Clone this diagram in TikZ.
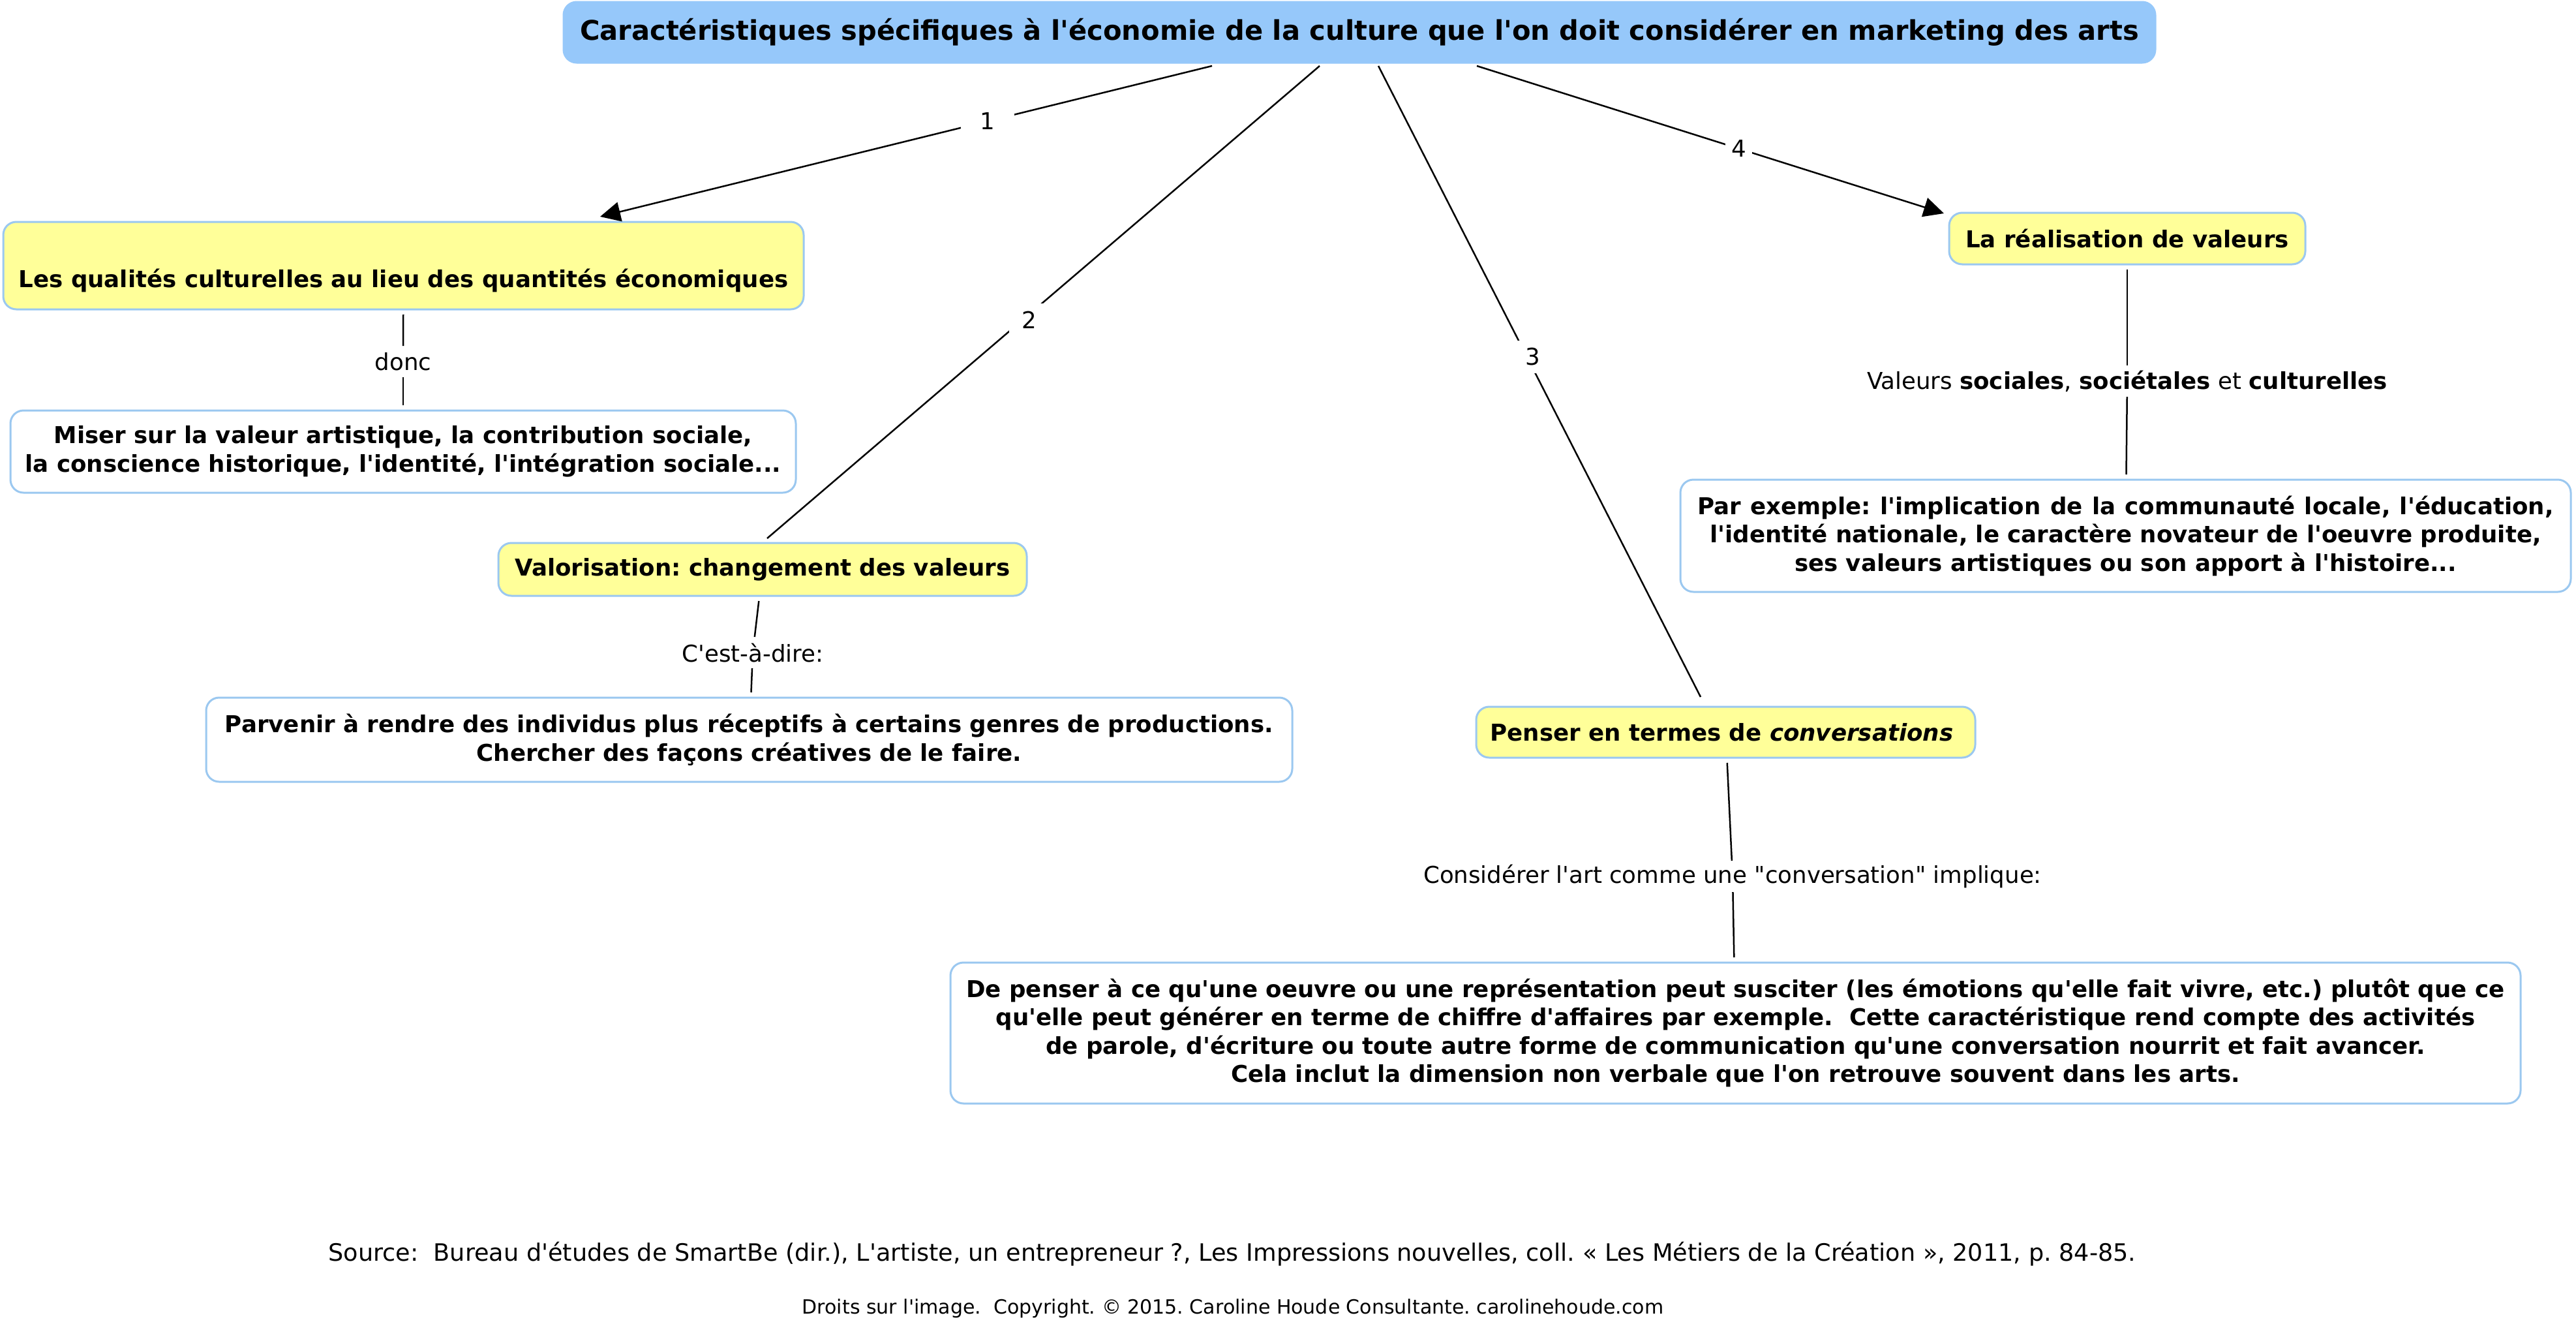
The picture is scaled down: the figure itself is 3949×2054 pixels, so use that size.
\documentclass[tikz,border=0pt]{standalone}
\usepackage{fontspec}
\setmainfont{DejaVu Sans}[Ligatures=TeXOff]
\usetikzlibrary{arrows.meta}
\definecolor{titlebl}{RGB}{150,200,250}
\definecolor{bordbl}{RGB}{155,200,240}
\definecolor{yel}{RGB}{255,255,153}
\begin{document}
\frenchspacing
\begin{tikzpicture}[x=1pt,y=-1pt,
 box/.style={draw=bordbl, line width=3pt, rounded corners=20pt, align=center, inner sep=0pt, outer sep=8pt, font=\fontsize{35.6pt}{43.5pt}\selectfont\bfseries},
 ybox/.style={box, fill=yel},
 wbox/.style={box, fill=white},
 lbl/.style={fill=white, inner xsep=6pt, inner ysep=0pt, outer sep=0pt, minimum height=48pt, font=\fontsize{35.6pt}{43.5pt}\selectfont},
 conn/.style={line width=2.5pt, draw=black},
 arr/.style={conn, -{Triangle[length=31pt,width=30pt]}},
]
\useasboundingbox (0,0) rectangle (3949,2054);
\fill[white] (0,0) rectangle (3949,2054);

\node[box, fill=titlebl, draw=titlebl, minimum width=2440pt, minimum height=93pt, font=\fontsize{41.6pt}{48pt}\selectfont\bfseries] (title) at (2084,49.5) {Caractéristiques spécifiques à l'économie de la culture que l'on doit considérer en marketing des arts};

\node[ybox, minimum width=1227pt, minimum height=134pt] (q) at (618.5,407) {\strut\\Les qualités culturelles au lieu des quantités économiques};
\node[wbox, minimum width=1204pt, minimum height=126pt] (miser) at (618,692) {Miser sur la valeur artistique, la contribution sociale,\\la conscience historique, l'identité, l'intégration sociale...};
\node[ybox, minimum width=810pt, minimum height=81pt] (valo) at (1169,872.5) {Valorisation: changement des valeurs};
\node[wbox, minimum width=1665pt, minimum height=129pt] (parv) at (1148.5,1133.5) {Parvenir à rendre des individus plus réceptifs à certains genres de productions.\\Chercher des façons créatives de le faire.};
\node[ybox, minimum width=546pt, minimum height=79pt] (real) at (3261,365.5) {La réalisation de valeurs};
\node[wbox, minimum width=1365pt, minimum height=172pt] (parex) at (3258.5,821) {\makebox[1312pt][s]{Par exemple: l'implication de la communauté locale, l'éducation,}\\l'identité nationale, le caractère novateur de l'oeuvre produite,\\ses valeurs artistiques ou son apport à l'histoire...};
\node[ybox, minimum width=765pt, minimum height=78pt] (penser) at (2645.5,1122) {Penser en termes de \textit{conversations}\hspace*{12pt}};
\node[wbox, minimum width=2407pt, minimum height=216pt] (dep) at (2660.5,1583) {De penser à ce qu'une oeuvre ou une représentation peut susciter (les émotions qu'elle fait vivre, etc.) plutôt que ce\\qu'elle peut générer en terme de chiffre d'affaires par exemple.\ \ Cette caractéristique rend compte des activités\\de parole, d'écriture ou toute autre forme de communication qu'une conversation nourrit et fait avancer.\hspace*{24pt}\\Cela inclut la dimension non verbale que l'on retrouve souvent dans les arts.};

\node[lbl] (donc) at (618,554) {donc};
\node[lbl] (cest) at (1154,1000) {C'est-à-dire:};
\node[lbl] (valeurs) at (3261,584) {Valeurs \textbf{sociales}, \textbf{sociétales} et \textbf{culturelles}};
\node[lbl] (consid) at (2656,1343) {Considérer l'art comme une "conversation" implique:};

\draw[conn] (q) -- (donc);
\draw[conn] (donc) -- (miser);
\draw[conn] (valo) -- (cest);
\draw[conn] (cest) -- (parv);
\draw[conn] (real) -- (valeurs);
\draw[conn] (valeurs) -- (parex);
\draw[conn] (penser) -- (consid);
\draw[conn] (consid) -- (dep);

\path (title.south) ++(-226,-3) coordinate (s1);
\path (title.south) ++(-61,-3) coordinate (s2);
\path (title.south) ++(29,-3) coordinate (s3);
\path (title.south) ++(180,-3) coordinate (s4);
\path (q.north) ++(301.5,0) coordinate (e1);
\path (valo.north) ++(7,1) coordinate (e2);
\path (penser.north) ++(-38.5,-7) coordinate (e3);
\path (real.north west) ++(0,9) coordinate (e4);

\draw[arr] (s1) -- node[lbl, pos=0.367, minimum width=82pt, minimum height=50pt] (n1) {1} (e1);
\draw[conn] (s2) -- (e2);
\node[lbl, minimum width=62pt, minimum height=50pt] (n2) at (1578,490) {2};
\draw[conn] (s3) -- (e3);
\node[lbl, minimum width=60pt, minimum height=50pt] (n3) at (2350,547) {3};
\draw[arr] (s4) -- node[lbl, pos=0.561, minimum width=41pt, minimum height=50pt] (n4) {4} (e4);

\node[font=\fontsize{36.6pt}{43pt}\selectfont] (src) at (1889,1922) {Source:\ \ Bureau d'études de SmartBe (dir.), L'artiste, un entrepreneur ?, Les Impressions nouvelles, coll. « Les Métiers de la Création », 2011, p. 84-85.};
\node[font=\fontsize{30pt}{35pt}\selectfont] (droits) at (1890,2005) {Droits sur l'image.\ \ Copyright. © 2015. Caroline Houde Consultante. carolinehoude.com};
\end{tikzpicture}
\end{document}
